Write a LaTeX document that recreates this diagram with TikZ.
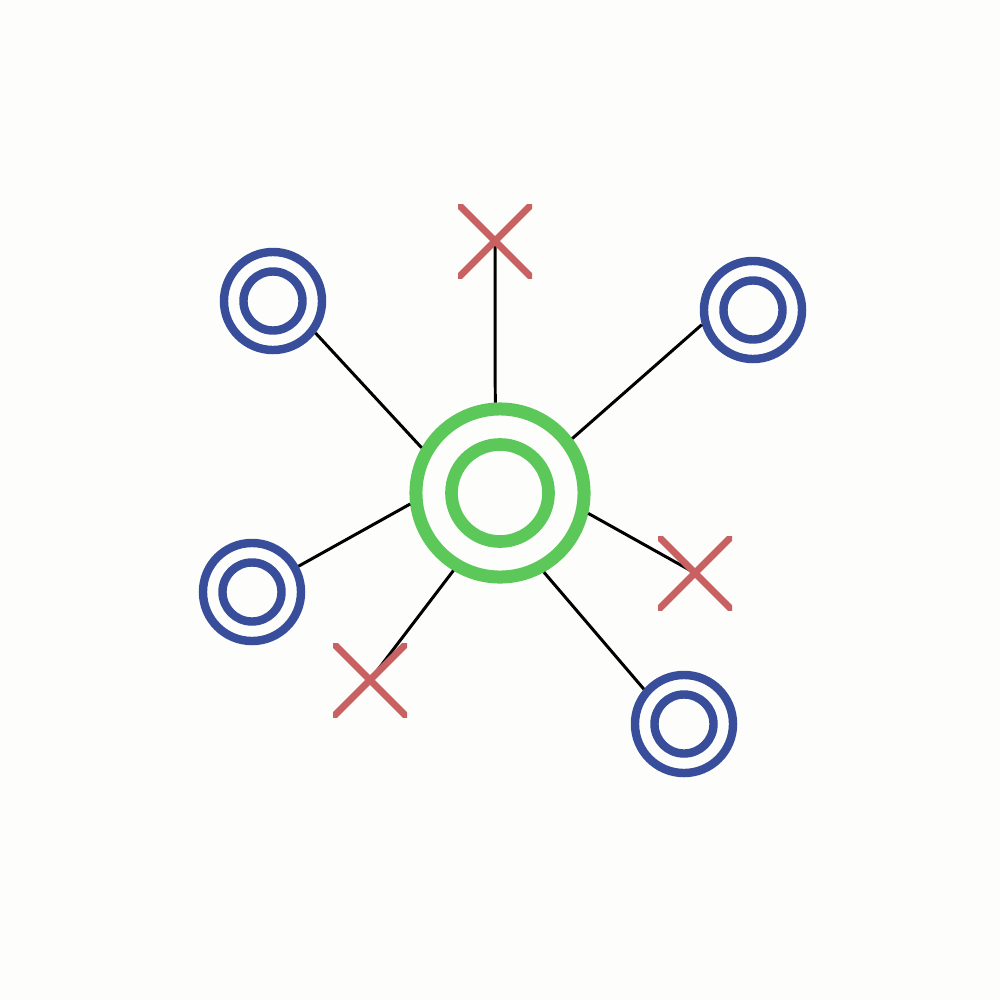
\documentclass[tikz,border=0pt]{standalone}
\usepackage{tikz}
\usetikzlibrary{positioning}

\definecolor{hubgreen}{HTML}{5CC85A}
\definecolor{leafblue}{HTML}{384E9A}
\definecolor{failred}{HTML}{C86262}
\definecolor{paper}{HTML}{FDFDFB}

\begin{document}
\begin{tikzpicture}[
    x=0.01cm, y=-0.01cm,
    hubout/.style={draw=hubgreen, circle, line width=3.7pt, minimum size=1.68cm, inner sep=0pt},
    hubin/.style={draw=hubgreen, circle, line width=3.6pt, minimum size=0.97cm, inner sep=0pt},
    leafout/.style={draw=leafblue, circle, line width=2.4pt, minimum size=0.98cm, inner sep=0pt},
    leafin/.style={draw=leafblue, circle, line width=2.4pt, minimum size=0.59cm, inner sep=0pt},
    link/.style={draw=black, line width=0.85pt},
    xmark/.pic={
        \begin{scope}
            \clip (-37,-37) rectangle (37,37);
            \draw[failred, line width=2pt] (-45,-45) -- (45,45) (-45,45) -- (45,-45);
        \end{scope}
    }
]
    \fill[paper] (0,0) rectangle (1000,1000);
    \useasboundingbox (0,0) rectangle (1000,1000);

    % Hub
    \node[hubout] (hub) at (500,493) {};
    \node[hubin] (hubcore) at (500,493) {};

    % Live peers
    \node[leafout] (p1) at (273,301) {};
    \node[leafin] (p1c) at (273,301) {};
    \node[leafout] (p2) at (753,310) {};
    \node[leafin] (p2c) at (753,310) {};
    \node[leafout] (p3) at (252,592) {};
    \node[leafin] (p3c) at (252,592) {};
    \node[leafout] (p4) at (684,724) {};
    \node[leafin] (p4c) at (684,724) {};

    % Lost peers
    \coordinate (d1) at (495,241);
    \coordinate (d2) at (695,573);
    \coordinate (d3) at (370,680);

    % Links
    \draw[link] (hub.150) -- (p1.-37);
    \draw[link] (hub.37) -- (p2.-164);
    \draw[link] (hub.187) -- (p3.29);
    \draw[link] (hub.-61) -- (p4.139);
    \draw[link] (hub.93) -- (d1);
    \draw[link] (hub.-13) -- (d2);
    \draw[link] (hub.-121) -- (d3);

    \pic at (d1) {xmark};
    \pic at (d2) {xmark};
    \pic at (d3) {xmark};
\end{tikzpicture}
\end{document}
